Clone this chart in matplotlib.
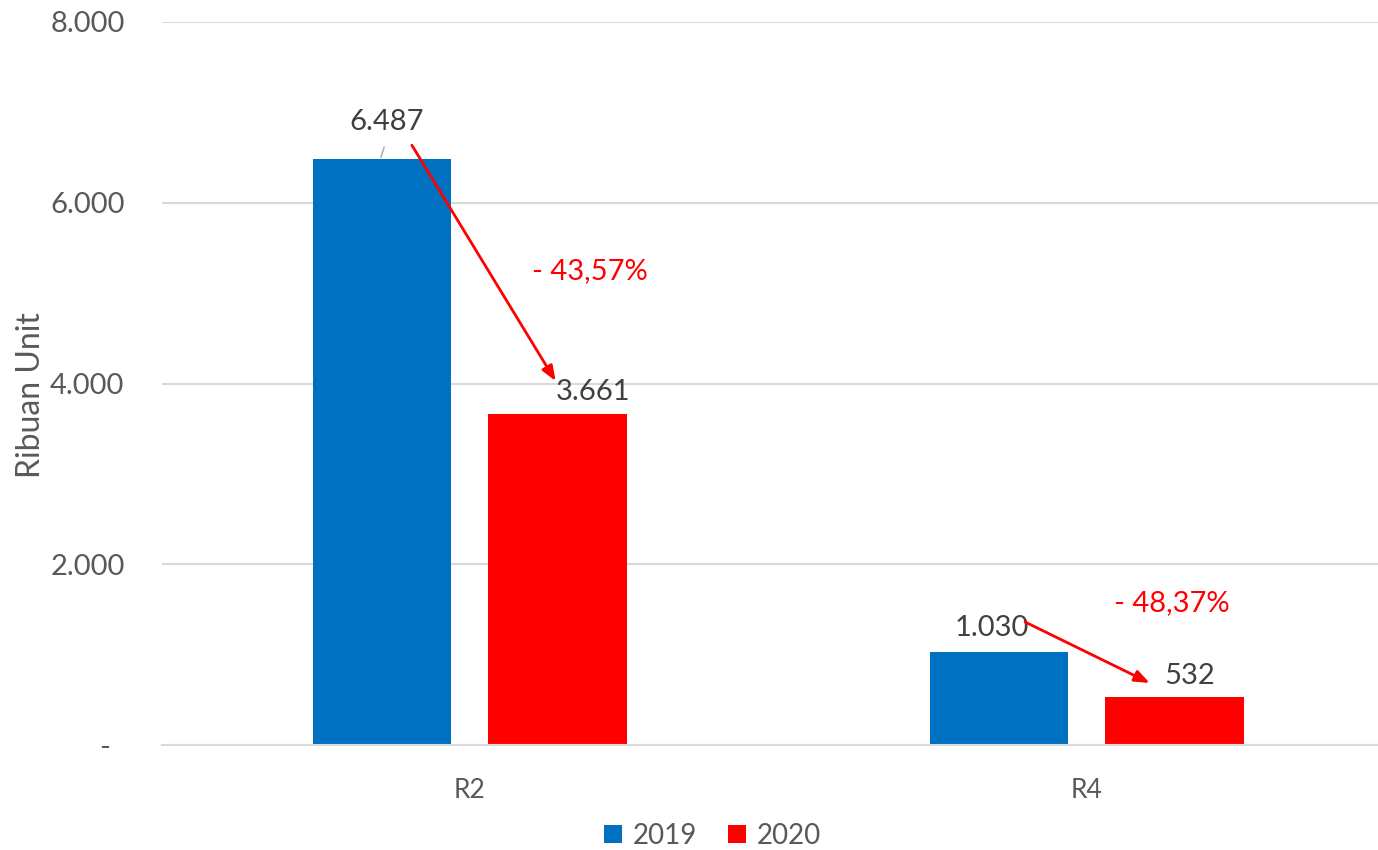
import numpy as np
import matplotlib
matplotlib.use("Agg")
import matplotlib.pyplot as plt

# data
categories = ["R2", "R4"]
years = ["2019", "2020"]
v2019 = [6487, 1030]
v2020 = [3661, 532]
pct_labels = ["- 43,57%", "- 48,37%"]
yticks = [0, 2000, 4000, 6000, 8000]
ytick_labels = ["-", "2.000", "4.000", "6.000", "8.000"]

BLUE, RED, GREY = "#0070C0", "#FF0000", "#595959"
plt.rcParams["font.family"] = ["Lato", "DejaVu Sans"]


def fmt(v):
    return f"{v:,}".replace(",", ".")


fig = plt.figure(figsize=(13.78, 8.5), dpi=100)
ax = fig.add_axes([162 / 1378, 1 - 745 / 850, 1 - 162 / 1378, (745 - 22) / 850])

x = np.arange(len(categories))
off, w = 0.142, 0.224
ax.bar(x - off, v2019, w, color=BLUE, label=years[0], zorder=2)
ax.bar(x + off, v2020, w, color=RED, label=years[1], zorder=2)

ax.set_xlim(-0.499, 1.472)
ax.set_ylim(0, 8000)
ax.set_yticks(yticks)
ax.set_yticklabels(ytick_labels)
ax.set_xticks(x)
ax.set_xticklabels(categories)
ax.grid(axis="y", color="#d9d9d9", lw=1.5, zorder=0)
for s in ["top", "right", "left"]:
    ax.spines[s].set_visible(False)
ax.spines["bottom"].set_color("#d9d9d9")
ax.spines["bottom"].set_linewidth(1.5)
ax.tick_params(axis="y", length=0, pad=27, labelsize=21, labelcolor=GREY)
ax.tick_params(axis="x", length=0, pad=24, labelsize=19, labelcolor=GREY)
# the "-" for zero sits a little left of the other labels
ax.get_yticklabels()[0].set_x(-0.012)
ax.set_ylabel("Ribuan Unit", fontsize=23, color=GREY)
ax.yaxis.set_label_coords(-0.095, 0.484)

# value labels (positions hand-placed like the original)
lab_pos = [(-0.135, 6892), (0.846, 1294), (0.199, 3905), (1.167, 763)]
vals = v2019 + v2020
for (lx, ly), v in zip(lab_pos, vals):
    ax.text(lx, ly, fmt(v), ha="center", va="center", fontsize=21, color="#404040")
ax.plot([-0.144, -0.139], [6504, 6615], color="#a6a6a6", lw=1)

# change arrows
arrows = [((-0.094, 6637), (0.139, 4027)), ((0.900, 1361), (1.102, 686))]
pct_pos = [(0.194, 5243), (1.138, 1571)]
for (s, e), (px, py), t in zip(arrows, pct_pos, pct_labels):
    ax.annotate("", xy=e, xytext=s,
                arrowprops=dict(arrowstyle="-|>,head_length=0.9,head_width=0.35",
                                color=RED, lw=2, shrinkA=0, shrinkB=0))
    ax.text(px, py, t, ha="center", va="center", fontsize=21, color=RED)

fig.legend(loc="lower center", bbox_to_anchor=(0.517, -0.028), ncol=2, frameon=False,
           fontsize=20, labelcolor=GREY, handlelength=0.65, handleheight=0.65,
           handletextpad=0.4, columnspacing=1.1)

fig.savefig("out.png", dpi=100)
